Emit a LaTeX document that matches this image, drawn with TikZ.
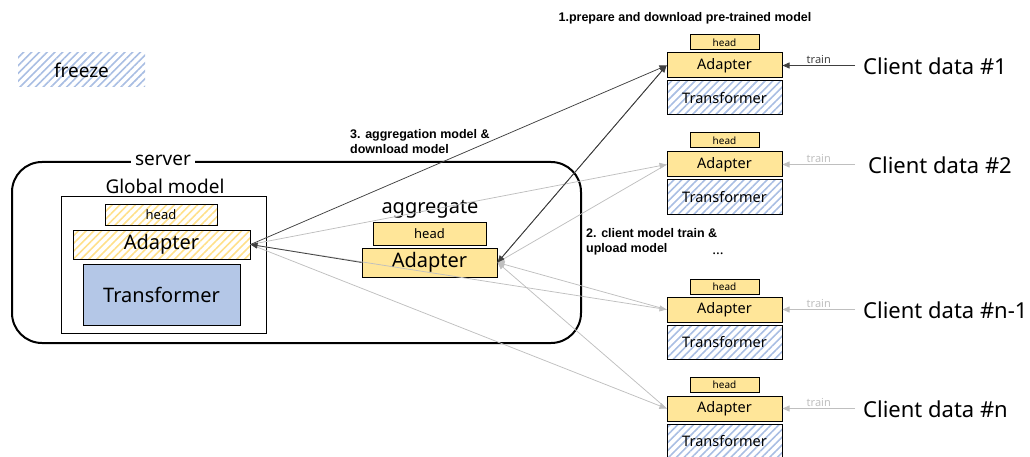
\documentclass[tikz,border=0pt]{standalone}
\usepackage{fontspec}
\setmainfont{Noto Sans}
\newfontfamily\lblfont{Liberation Sans}
\usetikzlibrary{arrows.meta,patterns.meta}
\definecolor{ylw}{HTML}{FFE699}
\definecolor{blu}{HTML}{B4C7E7}
\definecolor{hatchblu}{HTML}{A9BEE3}
\definecolor{hatchylw}{HTML}{FFE08A}
\definecolor{dark}{HTML}{404040}
\definecolor{lite}{HTML}{BFBFBF}
\tikzset{
  blk/.style={draw=black, line width=1pt, inner sep=0pt},
  solidy/.style={blk, fill=ylw},
  hatchy/.style={blk, pattern={Lines[angle=45,distance=5.5pt,line width=1.6pt]}, pattern color=hatchylw},
  hatchb/.style={blk, pattern={Lines[angle=45,distance=5.5pt,line width=1.6pt]}, pattern color=hatchblu},
  ctxt/.style={font=\fontsize{14.5}{14.5}\selectfont},
  htxt/.style={font=\fontsize{10}{10}\selectfont},
  bigtxt/.style={font=\fontsize{19}{19}\selectfont},
  lbl/.style={font=\lblfont\fontsize{12.5}{15}\selectfont\bfseries, align=left},
  darrow/.style={draw=dark, line width=0.75pt, -{Triangle[length=7pt,width=6pt]}},
  larrow/.style={draw=lite, line width=0.75pt, -{Triangle[length=7pt,width=6pt]}},
}
\begin{document}
\begin{tikzpicture}[x=1pt,y=-1pt]
\useasboundingbox (0,0) rectangle (1030,457);

% legend
\node[pattern={Lines[angle=45,distance=5.5pt,line width=1.6pt]}, pattern color=hatchblu,
  minimum width=127pt, minimum height=34pt, inner sep=0pt] (freeze) at (81.5,70) {};
\node[bigtxt] at (freeze) {freeze};

% server
\node[draw=black, line width=2pt, rounded corners=30pt, minimum width=569pt, minimum height=181pt] (server) at (296.5,252.5) {};
\node[fill=white, bigtxt, inner sep=4pt] (serverlbl) at (163,160) {server};
\node[bigtxt] (gmlbl) at (165,186) {Global model};
\node[blk, minimum width=205pt, minimum height=136pt] (gbox) at (163.5,265) {};
\node[hatchy, minimum width=112pt, minimum height=21pt, font=\fontsize{13}{13}\selectfont] (ghead) at (161,214.5) {head};
\node[hatchy, minimum width=177pt, minimum height=29pt, font=\fontsize{20}{20}\selectfont] (gadapter) at (161.5,244.5) {Adapter};
\node[blk, fill=blu, minimum width=157pt, minimum height=61pt, font=\fontsize{20}{20}\selectfont] (gtrans) at (161.5,294.5) {Transformer};

% aggregate
\node[font=\fontsize{20}{20}\selectfont] (agglbl) at (430,209) {aggregate};
\node[solidy, minimum width=113pt, minimum height=23pt, font=\fontsize{13}{13}\selectfont] (ahead) at (429.5,233.5) {head};
\node[solidy, minimum width=135pt, minimum height=29pt, font=\fontsize{20}{20}\selectfont] (aadapter) at (429.5,262.5) {Adapter};

% clients
\foreach \n/\h/\a/\t/\dx/\lab/\c in {1/42.5/65.5/98/863/{Client data \#1}/dark,
                                     2/140.5/164.5/197/868/{Client data \#2}/lite,
                                     m/286.5/309.5/342.5/863/{Client data \#n-1}/lite,
                                     n/384.5/408.5/441/863/{Client data \#n}/lite}{
  \node[solidy, minimum width=69pt, minimum height=15pt, htxt] (h\n) at (724.5,\h) {head};
  \node[solidy, minimum width=115pt, minimum height=25pt, ctxt] (a\n) at (724.5,\a) {Adapter};
  \node[hatchb, minimum width=115pt, minimum height=34pt, ctxt] (t\n) at (724.5,\t) {Transformer};
  \node[anchor=west, font=\fontsize{22}{22}\selectfont, inner sep=0pt] (d\n) at (\dx,\a+1) {\lab};
  \coordinate (s\n) at (855,\a);
  \draw[draw=\c, line width=0.75pt, -{Triangle[length=7pt,width=6pt]}] (s\n) -- (a\n.east)
    node[midway, above, text=\c, font=\fontsize{11}{11}\selectfont, inner sep=2pt] {train};
}
\node[font=\fontsize{14}{14}\selectfont] (dots) at (718,254) {...};

% light connectors
\draw[larrow] (gadapter.east) -- (a2.west);
\draw[larrow] (gadapter.east) -- (am.west);
\draw[larrow] (gadapter.east) -- (an.west);
\draw[larrow] (a2.west) -- (aadapter.east);
\draw[larrow] (am.west) -- (aadapter.east);
\draw[larrow] (an.west) -- (aadapter.east);

% dark connectors
\draw[darrow] (gadapter.east) -- (a1.west);
\draw[darrow] (a1.west) -- (aadapter.east);
\draw[darrow] (aadapter.west) -- (gadapter.east);
\draw[darrow] (aadapter.east) -- (a1.west);

% step labels
\node[lbl] (step1) at (685,18) {1.prepare and download pre-trained model};
\node[lbl, anchor=north west, inner sep=0pt] (step3) at (350,129) {3. aggregation model \&\\download model};
\node[lbl, anchor=north west, inner sep=0pt] (step2) at (586,228) {2. client model train \&\\upload model};
\end{tikzpicture}
\end{document}
